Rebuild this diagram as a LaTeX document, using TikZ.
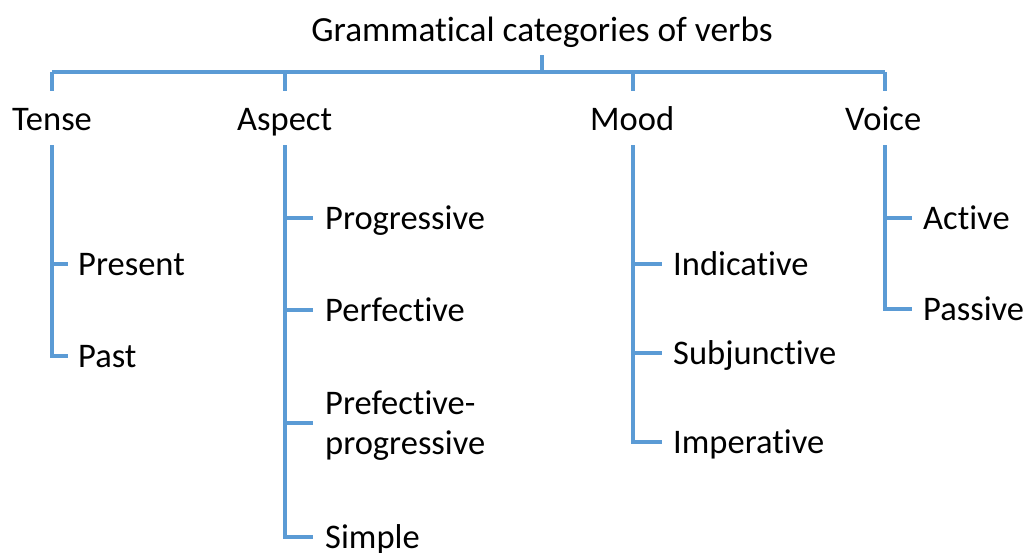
\documentclass[tikz,border=0pt]{standalone}
\usepackage{fontspec}
\setmainfont{Carlito}[Ligatures=NoCommon]
\definecolor{lineblue}{RGB}{91,155,213}
\begin{document}
\begin{tikzpicture}[x=1pt,y=-1pt,
  conn/.style={draw=lineblue, line width=3.2pt},
  lbl/.style={inner sep=0pt, anchor=base west, font=\fontsize{34.5}{40}\selectfont}]
\useasboundingbox[fill=white] (0,0) rectangle (1028,552);
% texts
\node[lbl, anchor=base, font=\fontsize{35.3}{40}\selectfont] (title) at (542,41) {Grammatical categories of verbs};
\node[lbl] (tense)  at (12,130)  {Tense};
\node[lbl] (aspect) at (237,130) {Aspect};
\node[lbl] (mood)   at (590,130) {Mood};
\node[lbl] (voice)  at (845,130) {Voice};
\node[lbl] (present) at (78,275) {Present};
\node[lbl] (past)    at (78,367) {Past};
\node[lbl] (prog)    at (325,229) {Progressive};
\node[lbl] (perf)    at (325,321) {Perfective};
\node[lbl, align=left] (perfprog) at (325,454) {Prefective-\\progressive};
\node[lbl] (simple)  at (325,548) {Simple};
\node[lbl] (indic)   at (673,275) {Indicative};
\node[lbl] (subj)    at (673,364) {Subjunctive};
\node[lbl] (imp)     at (673,453) {Imperative};
\node[lbl] (active)  at (923,229) {Active};
\node[lbl] (passive) at (923,320) {Passive};
% junction coordinates
\coordinate (rtop) at (542,55);
\coordinate (rbar) at (542,72);
\coordinate (barL) at (52,72);
\coordinate (barR) at (885,72);
\coordinate (tenseTop) at (52,91);
\coordinate (aspectBar) at (285,72);
\coordinate (aspectTop) at (285,91);
\coordinate (moodBar) at (633,72);
\coordinate (moodTop) at (633,91);
\coordinate (voiceTop) at (885,91);
\coordinate (tenseS) at (52,145);
\coordinate (aspectS) at (285,145);
\coordinate (moodS) at (633,145);
\coordinate (voiceS) at (885,145);
% connectors
\draw[conn] (rtop) -- (rbar);
\draw[conn] (barL) -- (barR);
\draw[conn] (barL) -- (tenseTop);
\draw[conn] (aspectBar) -- (aspectTop);
\draw[conn] (moodBar) -- (moodTop);
\draw[conn] (barR) -- (voiceTop);
% Tense
\draw[conn] (tenseS) |- ([xshift=-10pt]past.west |- 0,356);
\draw[conn] (52,264) -- ([xshift=-10pt]present.west |- 0,264);
% Aspect
\draw[conn] (aspectS) |- ([xshift=-12pt]simple.west |- 0,537);
\draw[conn] (285,218) -- ([xshift=-12pt]prog.west |- 0,218);
\draw[conn] (285,310) -- ([xshift=-12pt]perf.west |- 0,310);
\draw[conn] (285,423) -- ([xshift=-12pt]perfprog.west |- 0,423);
% Mood
\draw[conn] (moodS) |- ([xshift=-11pt]imp.west |- 0,442);
\draw[conn] (633,264) -- ([xshift=-11pt]indic.west |- 0,264);
\draw[conn] (633,353) -- ([xshift=-11pt]subj.west |- 0,353);
% Voice
\draw[conn] (voiceS) |- ([xshift=-11pt]passive.west |- 0,309);
\draw[conn] (885,218) -- ([xshift=-11pt]active.west |- 0,218);
\end{tikzpicture}
\end{document}
